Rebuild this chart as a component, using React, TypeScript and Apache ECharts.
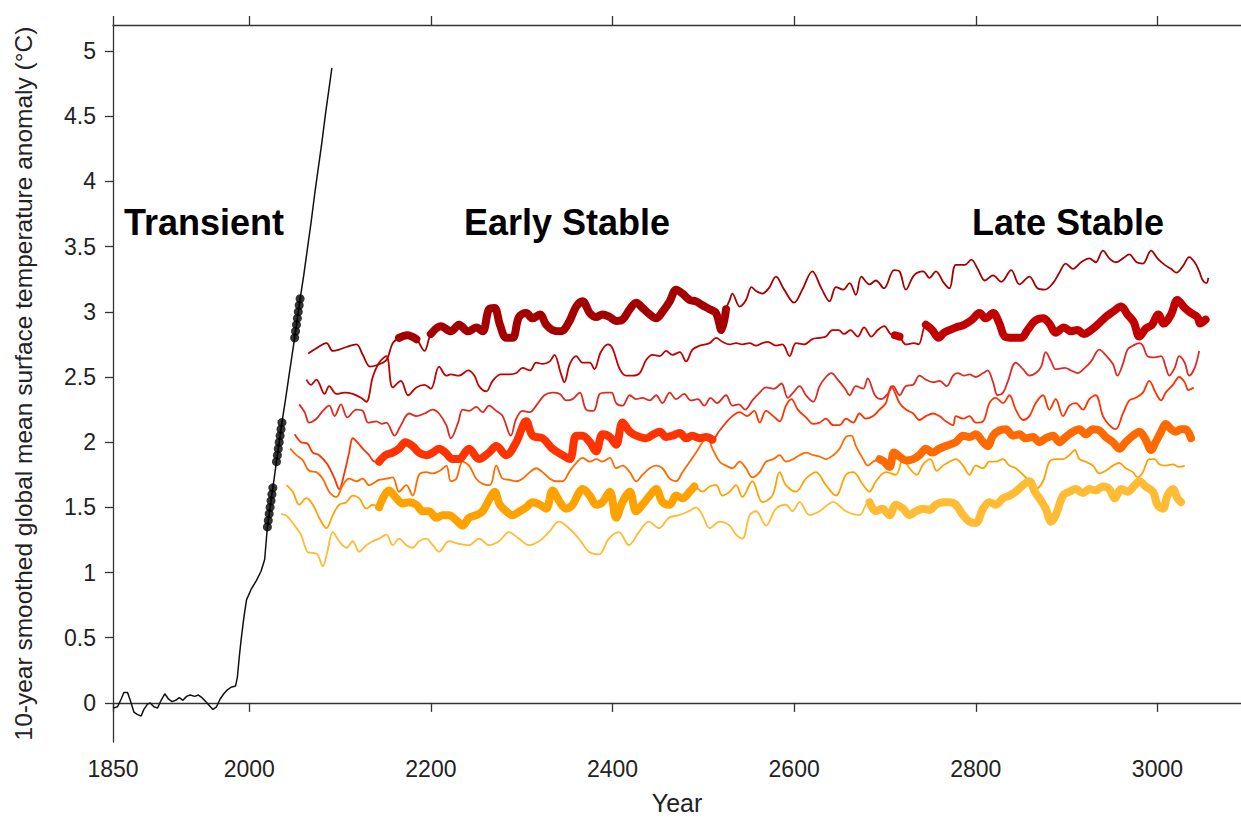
import React, { useEffect, useRef } from "react";
import * as echarts from "echarts";

type P = [number, number];

// ---- axis ticks ----
const xTickValues = [1850, 2000, 2200, 2400, 2600, 2800, 3000];
const yTickValues = [0, 0.5, 1, 1.5, 2, 2.5, 3, 3.5, 4, 4.5, 5];

// ---- transient (black) run ----
const transient: P[] = [
  [1850, -0.04], [1855, -0.03], [1859, 0.03], [1862, 0.08], [1866, 0.08], [1869, 0.02], [1873, -0.07],
  [1877, -0.09], [1881, -0.1], [1884, -0.05], [1888, -0.01], [1891, 0.0], [1895, -0.03], [1899, -0.04],
  [1903, 0.02], [1907, 0.07], [1911, 0.03], [1915, 0.01], [1919, 0.02], [1923, 0.04], [1927, 0.02],
  [1931, 0.05], [1935, 0.06], [1940, 0.05], [1944, 0.06], [1948, 0.04], [1952, 0.01], [1956, -0.02],
  [1960, -0.05], [1964, -0.03], [1968, 0.03], [1972, 0.07], [1976, 0.1], [1980, 0.12], [1985, 0.13],
  [1987, 0.2], [1989, 0.35], [1991, 0.48], [1994, 0.65], [1997, 0.79], [2002, 0.87], [2008, 0.94],
  [2013, 1.01], [2017, 1.1], [2020, 1.35], [2023, 1.5], [2026, 1.65], [2030, 1.85], [2033, 2.0],
  [2036, 2.15], [2040, 2.33], [2044, 2.52], [2047, 2.66], [2050, 2.8], [2053, 2.95], [2056, 3.1],
  [2060, 3.28], [2064, 3.48], [2068, 3.68], [2072, 3.9], [2076, 4.1], [2080, 4.3], [2084, 4.52],
  [2088, 4.72], [2091, 4.87],
];

const branchDots: P[] = [
  [2020, 1.35], [2021, 1.4], [2022, 1.45], [2023, 1.5], [2024, 1.55], [2025, 1.6], [2026, 1.65],
  [2030, 1.85], [2031, 1.9], [2032, 1.95], [2033, 2.0], [2034, 2.05], [2035, 2.1], [2036, 2.15],
  [2050, 2.8], [2051, 2.85], [2052, 2.9], [2053, 2.95], [2054, 3.0], [2055, 3.05], [2056, 3.1],
];

// ---- stabilisation runs ----
const lineA: P[] = [
  [2065, 2.68], [2074, 2.72], [2085, 2.76], [2092, 2.7], [2099, 2.71], [2107, 2.73], [2118, 2.75], [2125, 2.67],
  [2133, 2.58], [2140, 2.59], [2151, 2.63], [2158, 2.76], [2165, 2.8], [2174, 2.82], [2184, 2.79], [2193, 2.7],
  [2200, 2.83], [2211, 2.89], [2222, 2.85], [2231, 2.9], [2241, 2.85], [2250, 2.88], [2257, 2.85], [2264, 3.02],
  [2270, 3.03], [2276, 2.9], [2283, 2.8], [2290, 2.8], [2297, 2.96], [2305, 2.99], [2312, 2.95], [2320, 2.98],
  [2327, 2.9], [2334, 2.86], [2343, 2.85], [2352, 2.92], [2360, 3.04], [2367, 3.08], [2375, 2.99], [2382, 2.96],
  [2389, 2.98], [2397, 2.96], [2404, 2.93], [2411, 2.94], [2419, 3.02], [2426, 3.07], [2433, 3.03], [2441, 2.98],
  [2448, 2.95], [2455, 3.0], [2463, 3.08], [2470, 3.17], [2477, 3.14], [2485, 3.09], [2492, 3.08], [2499, 3.05],
  [2507, 3.02], [2514, 2.99], [2520, 2.86], [2525, 3.02], [2529, 3.09], [2532, 3.14], [2540, 3.04], [2547, 3.09],
  [2553, 3.19], [2558, 3.16], [2565, 3.14], [2572, 3.18], [2580, 3.27], [2589, 3.17], [2600, 3.07], [2609, 3.17],
  [2620, 3.31], [2630, 3.18], [2639, 3.08], [2646, 3.19], [2654, 3.17], [2661, 3.22], [2668, 3.13], [2674, 3.27],
  [2683, 3.21], [2690, 3.24], [2699, 3.18], [2710, 3.32], [2716, 3.31], [2723, 3.17], [2732, 3.28], [2742, 3.31],
  [2749, 3.26], [2756, 3.31], [2765, 3.22], [2771, 3.18], [2778, 3.36], [2788, 3.36], [2795, 3.4], [2802, 3.33],
  [2810, 3.24], [2819, 3.28], [2828, 3.23], [2839, 3.32], [2848, 3.21], [2859, 3.27], [2868, 3.18], [2876, 3.17],
  [2885, 3.22], [2892, 3.3], [2899, 3.37], [2907, 3.33], [2916, 3.38], [2925, 3.41], [2932, 3.38], [2940, 3.47],
  [2947, 3.41], [2954, 3.38], [2962, 3.41], [2969, 3.44], [2977, 3.38], [2984, 3.37], [2993, 3.47], [3000, 3.41],
  [3008, 3.36], [3015, 3.33], [3021, 3.3], [3028, 3.35], [3035, 3.42], [3041, 3.38], [3046, 3.31], [3050, 3.24],
  [3054, 3.22], [3056, 3.26],
];

const lineB: P[] = [
  [2063, 2.48], [2068, 2.44], [2074, 2.48], [2083, 2.37], [2088, 2.43], [2096, 2.37], [2105, 2.38], [2114, 2.37],
  [2123, 2.34], [2129, 2.31], [2136, 2.5], [2143, 2.61], [2151, 2.66], [2158, 2.42], [2167, 2.47], [2175, 2.36],
  [2184, 2.42], [2193, 2.44], [2200, 2.41], [2209, 2.58], [2217, 2.51], [2222, 2.52], [2231, 2.51], [2241, 2.55],
  [2248, 2.51], [2253, 2.43], [2261, 2.39], [2268, 2.47], [2277, 2.52], [2287, 2.52], [2294, 2.53], [2301, 2.57],
  [2309, 2.55], [2316, 2.61], [2323, 2.6], [2331, 2.62], [2336, 2.67], [2343, 2.53], [2347, 2.46], [2353, 2.6],
  [2360, 2.66], [2367, 2.61], [2375, 2.61], [2380, 2.56], [2387, 2.69], [2395, 2.75], [2400, 2.72], [2408, 2.56],
  [2415, 2.51], [2422, 2.51], [2430, 2.53], [2437, 2.63], [2444, 2.67], [2452, 2.66], [2459, 2.7], [2466, 2.67],
  [2474, 2.69], [2481, 2.62], [2488, 2.71], [2496, 2.74], [2507, 2.76], [2514, 2.8], [2521, 2.77], [2529, 2.75],
  [2536, 2.76], [2543, 2.75], [2551, 2.76], [2558, 2.74], [2565, 2.76], [2571, 2.77], [2580, 2.74], [2587, 2.75],
  [2595, 2.66], [2602, 2.76], [2611, 2.75], [2620, 2.79], [2628, 2.8], [2635, 2.81], [2642, 2.86], [2649, 2.86],
  [2655, 2.83], [2662, 2.86], [2670, 2.81], [2677, 2.88], [2685, 2.81], [2692, 2.86], [2699, 2.89], [2706, 2.83],
  [2711, 2.82], [2716, 2.81], [2723, 2.75], [2732, 2.76], [2737, 2.75], [2745, 2.9], [2752, 2.86], [2759, 2.8],
  [2765, 2.84], [2771, 2.86], [2778, 2.88], [2787, 2.9], [2796, 2.94], [2804, 2.99], [2811, 2.95], [2819, 2.99],
  [2826, 2.91], [2832, 2.81], [2841, 2.8], [2850, 2.8], [2857, 2.86], [2865, 2.93], [2874, 2.95], [2881, 2.91],
  [2888, 2.84], [2897, 2.88], [2905, 2.85], [2912, 2.86], [2919, 2.83], [2927, 2.86], [2934, 2.9], [2943, 2.96],
  [2951, 3.0], [2960, 3.04], [2967, 2.98], [2974, 2.92], [2980, 2.81], [2987, 2.87], [2994, 2.9], [3001, 2.98],
  [3007, 2.91], [3015, 2.98], [3022, 3.09], [3030, 3.03], [3037, 2.99], [3044, 2.96], [3047, 2.91], [3053, 2.94],
];

const lineC: P[] = [
  [2055, 2.29], [2061, 2.23], [2066, 2.15], [2074, 2.18], [2081, 2.24], [2088, 2.28], [2094, 2.2], [2101, 2.29],
  [2108, 2.19], [2118, 2.25], [2125, 2.24], [2131, 2.15], [2140, 2.16], [2146, 2.14], [2151, 2.15], [2160, 2.05],
  [2167, 2.13], [2176, 2.22], [2184, 2.2], [2193, 2.22], [2202, 2.25], [2209, 2.22], [2217, 2.13], [2222, 2.03],
  [2230, 2.15], [2235, 2.25], [2242, 2.24], [2250, 2.27], [2257, 2.23], [2264, 2.28], [2272, 2.24], [2279, 2.2],
  [2288, 2.05], [2294, 2.18], [2301, 2.24], [2309, 2.23], [2316, 2.28], [2325, 2.36], [2334, 2.38], [2342, 2.37],
  [2349, 2.32], [2356, 2.33], [2364, 2.38], [2371, 2.25], [2379, 2.24], [2386, 2.37], [2393, 2.38], [2399, 2.38],
  [2404, 2.3], [2411, 2.28], [2419, 2.36], [2426, 2.33], [2433, 2.34], [2441, 2.32], [2448, 2.36], [2455, 2.3],
  [2463, 2.38], [2470, 2.33], [2479, 2.37], [2486, 2.32], [2494, 2.33], [2501, 2.28], [2508, 2.34], [2515, 2.3],
  [2525, 2.36], [2532, 2.28], [2539, 2.29], [2546, 2.25], [2554, 2.32], [2562, 2.38], [2569, 2.42], [2578, 2.41],
  [2586, 2.45], [2593, 2.34], [2599, 2.38], [2606, 2.43], [2613, 2.36], [2621, 2.31], [2628, 2.43], [2635, 2.5],
  [2641, 2.53], [2648, 2.48], [2656, 2.41], [2661, 2.36], [2668, 2.43], [2676, 2.41], [2681, 2.49], [2689, 2.36],
  [2696, 2.33], [2703, 2.37], [2709, 2.43], [2716, 2.36], [2723, 2.43], [2731, 2.44], [2738, 2.51], [2745, 2.48],
  [2753, 2.46], [2760, 2.47], [2768, 2.43], [2775, 2.51], [2780, 2.53], [2787, 2.51], [2793, 2.52], [2800, 2.5],
  [2808, 2.53], [2813, 2.55], [2819, 2.46], [2824, 2.36], [2830, 2.38], [2835, 2.46], [2844, 2.61], [2852, 2.56],
  [2859, 2.51], [2866, 2.53], [2872, 2.58], [2877, 2.69], [2883, 2.62], [2888, 2.56], [2898, 2.57], [2905, 2.55],
  [2912, 2.53], [2920, 2.57], [2927, 2.62], [2936, 2.71], [2944, 2.66], [2951, 2.6], [2956, 2.51], [2962, 2.6],
  [2967, 2.71], [2973, 2.74], [2980, 2.76], [2984, 2.74], [2989, 2.66], [2997, 2.65], [3004, 2.66], [3009, 2.58],
  [3013, 2.51], [3019, 2.57], [3024, 2.66], [3030, 2.61], [3035, 2.51], [3041, 2.57], [3046, 2.7],
];

const lineD: P[] = [
  [2050, 2.06], [2057, 2.0], [2064, 1.99], [2070, 1.92], [2077, 1.9], [2086, 1.83], [2094, 1.72], [2099, 1.64],
  [2105, 1.77], [2110, 1.92], [2114, 2.03], [2119, 2.0], [2125, 1.95], [2132, 1.9], [2138, 1.85], [2143, 1.85],
  [2150, 1.9], [2158, 1.92], [2165, 1.95], [2172, 2.0], [2180, 1.97], [2187, 1.92], [2195, 1.9], [2202, 1.92],
  [2209, 1.95], [2216, 1.92], [2224, 1.87], [2231, 1.87], [2242, 1.95], [2253, 1.87], [2264, 1.92], [2272, 1.97],
  [2283, 1.9], [2294, 2.0], [2305, 2.16], [2312, 2.05], [2323, 2.03], [2334, 1.95], [2345, 1.9], [2353, 1.87],
  [2360, 2.05], [2367, 2.05], [2375, 2.0], [2382, 1.93], [2389, 2.06], [2397, 2.04], [2404, 1.98], [2411, 2.15],
  [2419, 2.08], [2426, 2.05], [2437, 2.03], [2445, 2.06], [2452, 2.08], [2459, 2.04], [2466, 2.05], [2474, 2.07],
  [2481, 2.03], [2488, 2.05], [2496, 2.03], [2503, 2.04], [2510, 2.02], [2517, 2.08], [2525, 2.15], [2532, 2.2],
  [2540, 2.23], [2548, 2.2], [2556, 2.24], [2562, 2.15], [2569, 2.24], [2577, 2.2], [2584, 2.16], [2591, 2.28],
  [2597, 2.33], [2604, 2.25], [2613, 2.19], [2621, 2.14], [2628, 2.15], [2635, 2.18], [2643, 2.13], [2650, 2.13],
  [2657, 2.18], [2665, 2.15], [2672, 2.22], [2679, 2.18], [2687, 2.2], [2694, 2.25], [2701, 2.3], [2707, 2.43],
  [2711, 2.38], [2716, 2.3], [2723, 2.25], [2731, 2.22], [2738, 2.17], [2745, 2.2], [2753, 2.22], [2760, 2.2],
  [2767, 2.16], [2775, 2.13], [2778, 2.2], [2786, 2.18], [2793, 2.2], [2800, 2.15], [2808, 2.16], [2815, 2.3],
  [2822, 2.34], [2830, 2.3], [2837, 2.36], [2844, 2.25], [2852, 2.17], [2859, 2.2], [2866, 2.3], [2874, 2.36],
  [2881, 2.25], [2888, 2.33], [2896, 2.2], [2903, 2.28], [2910, 2.3], [2918, 2.25], [2925, 2.33], [2932, 2.36],
  [2940, 2.2], [2947, 2.13], [2954, 2.1], [2962, 2.22], [2969, 2.32], [2976, 2.34], [2984, 2.38], [2991, 2.47],
  [2998, 2.38], [3004, 2.32], [3009, 2.38], [3017, 2.44], [3024, 2.5], [3030, 2.46], [3034, 2.4], [3040, 2.42],
];

const lineE: P[] = [
  [2045, 1.95], [2052, 1.9], [2059, 1.86], [2066, 1.78], [2074, 1.77], [2081, 1.72], [2088, 1.62], [2096, 1.58],
  [2103, 1.67], [2110, 1.72], [2118, 1.7], [2125, 1.72], [2132, 1.67], [2140, 1.7], [2143, 1.71], [2151, 1.72],
  [2158, 1.73], [2165, 1.62], [2173, 1.67], [2180, 1.59], [2187, 1.75], [2195, 1.77], [2202, 1.76], [2210, 1.78],
  [2217, 1.82], [2222, 1.7], [2228, 1.72], [2235, 1.85], [2242, 1.82], [2250, 1.72], [2257, 1.68], [2265, 1.67],
  [2272, 1.82], [2279, 1.72], [2287, 1.71], [2294, 1.7], [2301, 1.72], [2309, 1.77], [2316, 1.8], [2323, 1.77],
  [2331, 1.72], [2338, 1.7], [2345, 1.7], [2353, 1.78], [2360, 1.84], [2367, 1.88], [2375, 1.85], [2382, 1.87],
  [2389, 1.85], [2397, 1.88], [2404, 1.8], [2411, 1.82], [2419, 1.77], [2426, 1.7], [2433, 1.75], [2441, 1.8],
  [2448, 1.82], [2455, 1.8], [2463, 1.72], [2470, 1.7], [2477, 1.77], [2485, 1.85], [2492, 1.92], [2499, 2.0],
  [2504, 2.04], [2510, 1.95], [2518, 1.85], [2525, 1.82], [2532, 1.8], [2540, 1.85], [2547, 1.8], [2554, 1.73],
  [2562, 1.77], [2569, 1.85], [2577, 1.87], [2584, 1.9], [2591, 1.85], [2599, 1.87], [2606, 1.9], [2613, 1.92],
  [2621, 1.9], [2628, 1.89], [2635, 1.87], [2643, 1.9], [2650, 1.95], [2657, 2.04], [2663, 2.05], [2668, 1.97],
  [2676, 1.87], [2681, 1.82], [2687, 1.85], [2694, 1.87], [2699, 1.85], [2705, 1.81], [2710, 1.92], [2716, 1.89],
  [2723, 1.86], [2731, 1.87], [2738, 1.9], [2745, 1.95], [2752, 1.92], [2760, 1.95], [2767, 1.97], [2778, 2.0],
  [2786, 2.05], [2793, 2.04], [2800, 2.06], [2808, 2.0], [2813, 1.97], [2819, 2.05], [2826, 2.09], [2833, 2.1],
  [2841, 2.05], [2848, 2.06], [2855, 2.03], [2863, 2.04], [2870, 2.0], [2877, 2.03], [2885, 2.05], [2892, 2.0],
  [2899, 2.04], [2907, 2.08], [2914, 2.1], [2921, 2.06], [2929, 2.1], [2936, 2.09], [2943, 2.04], [2951, 2.0],
  [2958, 1.95], [2965, 2.0], [2973, 2.05], [2980, 2.08], [2987, 2.02], [2993, 1.94], [2998, 2.0], [3004, 2.08],
  [3009, 2.14], [3015, 2.1], [3020, 2.08], [3026, 2.1], [3031, 2.1], [3037, 2.03],
];

const lineF: P[] = [
  [2041, 1.67], [2048, 1.62], [2055, 1.52], [2063, 1.57], [2070, 1.52], [2077, 1.42], [2085, 1.34], [2092, 1.44],
  [2099, 1.52], [2107, 1.54], [2114, 1.59], [2121, 1.57], [2129, 1.49], [2136, 1.52], [2143, 1.5], [2154, 1.63],
  [2162, 1.57], [2169, 1.53], [2176, 1.54], [2184, 1.52], [2191, 1.47], [2198, 1.47], [2206, 1.42], [2213, 1.44],
  [2220, 1.44], [2228, 1.4], [2235, 1.36], [2242, 1.42], [2250, 1.44], [2257, 1.47], [2265, 1.57], [2270, 1.62],
  [2276, 1.52], [2283, 1.47], [2290, 1.44], [2298, 1.47], [2305, 1.5], [2312, 1.54], [2320, 1.52], [2327, 1.49],
  [2334, 1.63], [2342, 1.54], [2349, 1.49], [2356, 1.52], [2362, 1.6], [2367, 1.64], [2375, 1.59], [2382, 1.52],
  [2389, 1.54], [2397, 1.62], [2404, 1.42], [2411, 1.54], [2419, 1.62], [2426, 1.47], [2433, 1.52], [2441, 1.59],
  [2448, 1.64], [2455, 1.54], [2463, 1.52], [2470, 1.59], [2477, 1.57], [2485, 1.62], [2490, 1.66], [2499, 1.62],
  [2507, 1.66], [2514, 1.67], [2521, 1.59], [2529, 1.62], [2536, 1.67], [2543, 1.58], [2554, 1.7], [2565, 1.54],
  [2576, 1.59], [2584, 1.77], [2591, 1.67], [2602, 1.62], [2613, 1.72], [2624, 1.77], [2635, 1.67], [2646, 1.59],
  [2657, 1.75], [2665, 1.77], [2676, 1.67], [2683, 1.62], [2690, 1.7], [2701, 1.77], [2712, 1.75], [2720, 1.88],
  [2727, 1.8], [2735, 1.75], [2742, 1.83], [2750, 1.87], [2757, 1.78], [2764, 1.82], [2771, 1.85], [2778, 1.87],
  [2786, 1.82], [2793, 1.75], [2800, 1.82], [2808, 1.8], [2815, 1.85], [2822, 1.85], [2830, 1.87], [2837, 1.82],
  [2844, 1.8], [2852, 1.75], [2859, 1.7], [2866, 1.64], [2874, 1.7], [2881, 1.85], [2888, 1.87], [2896, 1.87],
  [2903, 1.9], [2909, 1.94], [2914, 1.87], [2921, 1.85], [2929, 1.82], [2936, 1.76], [2943, 1.78], [2951, 1.82],
  [2958, 1.84], [2965, 1.8], [2973, 1.77], [2978, 1.73], [2984, 1.77], [2991, 1.87], [2997, 1.87], [3002, 1.83],
  [3009, 1.82], [3017, 1.83], [3024, 1.81], [3030, 1.82],
];

const lineG: P[] = [
  [2035, 1.45], [2042, 1.43], [2050, 1.36], [2057, 1.29], [2064, 1.16], [2070, 1.15], [2075, 1.14], [2081, 1.05],
  [2086, 1.16], [2092, 1.31], [2099, 1.24], [2107, 1.19], [2114, 1.24], [2121, 1.16], [2129, 1.21], [2136, 1.24],
  [2143, 1.26], [2151, 1.29], [2158, 1.21], [2165, 1.26], [2173, 1.21], [2180, 1.19], [2187, 1.24], [2195, 1.26],
  [2202, 1.21], [2209, 1.16], [2220, 1.24], [2231, 1.22], [2242, 1.21], [2253, 1.26], [2264, 1.21], [2275, 1.24],
  [2286, 1.31], [2297, 1.26], [2308, 1.21], [2319, 1.24], [2330, 1.31], [2341, 1.39], [2352, 1.34], [2363, 1.26],
  [2374, 1.16], [2385, 1.14], [2396, 1.26], [2407, 1.31], [2418, 1.21], [2429, 1.31], [2440, 1.39], [2451, 1.34],
  [2462, 1.42], [2473, 1.44], [2484, 1.47], [2492, 1.5], [2499, 1.44], [2507, 1.34], [2518, 1.39], [2529, 1.36],
  [2536, 1.29], [2543, 1.26], [2551, 1.44], [2558, 1.47], [2569, 1.36], [2580, 1.49], [2591, 1.52], [2598, 1.47],
  [2606, 1.54], [2617, 1.44], [2628, 1.47], [2643, 1.54], [2657, 1.47], [2672, 1.44], [2679, 1.52], [2683, 1.54],
  [2690, 1.47], [2697, 1.49], [2705, 1.44], [2712, 1.52], [2720, 1.49], [2727, 1.44], [2734, 1.47], [2742, 1.49],
  [2749, 1.48], [2756, 1.52], [2764, 1.54], [2771, 1.54], [2778, 1.52], [2786, 1.44], [2793, 1.39], [2800, 1.38],
  [2808, 1.49], [2815, 1.54], [2822, 1.52], [2830, 1.57], [2837, 1.59], [2844, 1.62], [2852, 1.67], [2859, 1.7],
  [2865, 1.62], [2870, 1.57], [2877, 1.49], [2883, 1.39], [2888, 1.44], [2896, 1.59], [2903, 1.62], [2910, 1.64],
  [2918, 1.61], [2925, 1.64], [2932, 1.63], [2940, 1.66], [2947, 1.64], [2953, 1.57], [2960, 1.64], [2967, 1.62],
  [2975, 1.67], [2980, 1.7], [2987, 1.66], [2995, 1.62], [3000, 1.52], [3006, 1.49], [3011, 1.59], [3017, 1.64],
  [3022, 1.57], [3026, 1.54],
];

// stable windows (years) drawn thick
const windowsA: P[] = [[2163, 2186], [2199, 2526]];
const windowsB: P[] = [[2709, 2718], [2740, 3054]];
const windowsC: P[] = [];
const windowsD: P[] = [[2142, 2511]];
const windowsE: P[] = [[2693, 3038]];
const windowsF: P[] = [[2142, 2491]];
const windowsG: P[] = [[2682, 3027]];

const lineColors = ["#a50000", "#c20000", "#de2a22", "#ff3300", "#ff6a00", "#ffa200", "#ffbb33"];

const FONT = '"Liberation Sans", Arial, Helvetica, sans-serif';

export default function App() {
  const ref = useRef<HTMLDivElement>(null);
  useEffect(() => {
    if (!ref.current) return;
    const chart = echarts.init(ref.current, null, { renderer: "svg" });
    const runs = [
      { data: lineA, win: windowsA },
      { data: lineB, win: windowsB },
      { data: lineC, win: windowsC },
      { data: lineD, win: windowsD },
      { data: lineE, win: windowsE },
      { data: lineF, win: windowsF },
      { data: lineG, win: windowsG },
    ];
    const series: any[] = [];
    runs.forEach((r, i) => {
      const color = lineColors[i];
      series.push({
        type: "line",
        data: r.data,
        showSymbol: false,
        symbol: "none",
        smooth: 0.35,
        lineStyle: { width: 1.8, color },
        z: 2,
        silent: true,
      });
      r.win.forEach((w) => {
        series.push({
          type: "line",
          data: r.data.filter((p) => p[0] >= w[0] && p[0] <= w[1]),
          showSymbol: false,
          symbol: "none",
          smooth: 0.35,
          lineStyle: { width: 8, color, cap: "round", join: "round" },
          z: 3,
          silent: true,
        });
      });
    });
    series.push({
      type: "line",
      data: transient,
      showSymbol: false,
      symbol: "none",
      lineStyle: { width: 1.5, color: "#111" },
      z: 4,
      silent: true,
    });
    series.push({
      type: "scatter",
      data: branchDots,
      symbolSize: 9,
      itemStyle: { color: "#000" },
      z: 5,
      silent: true,
    });

    const axisLineStyle = { color: "#333", width: 1.3 };
    const option: any = {
      animation: false,
      backgroundColor: "#fff",
      grid: { left: 113, right: 0, top: 25, bottom: 76, containLabel: false },
      xAxis: [
        {
          type: "value",
          min: 1850,
          max: 3092,
          position: "bottom",
          name: "Year",
          nameLocation: "middle",
          nameGap: 48,
          nameTextStyle: { fontFamily: FONT, fontSize: 25, color: "#222" },
          axisLine: { show: true, lineStyle: axisLineStyle },
          axisTick: { show: true, length: 9, customValues: xTickValues, lineStyle: axisLineStyle },
          axisLabel: {
            customValues: xTickValues,
            margin: 15,
            fontFamily: FONT,
            fontSize: 23,
            color: "#222",
            formatter: (v: number) => String(v),
          },
          splitLine: { show: false },
        },
        {
          type: "value",
          min: 1850,
          max: 3092,
          position: "top",
          axisLine: { show: true, lineStyle: axisLineStyle },
          axisTick: { show: true, length: 9, customValues: xTickValues, lineStyle: axisLineStyle },
          axisLabel: { show: false },
          splitLine: { show: false },
        },
      ],
      yAxis: {
        type: "value",
        min: -0.3,
        max: 5.2,
        name: "10-year smoothed global mean surface temperature anomaly (°C)",
        nameLocation: "middle",
        nameGap: 77,
        nameTextStyle: { fontFamily: FONT, fontSize: 24.5, color: "#222" },
        axisLine: { show: true, lineStyle: axisLineStyle },
        axisTick: { show: true, length: 8, customValues: yTickValues, lineStyle: axisLineStyle },
        axisLabel: {
          customValues: yTickValues,
          margin: 17,
          fontFamily: FONT,
          fontSize: 23,
          color: "#222",
          formatter: (v: number) => String(v),
        },
        splitLine: { show: false },
      },
      graphic: [
        {
          type: "text",
          x: 204,
          y: 222,
          style: {
            text: "Transient",
            font: `bold 36px ${FONT}`,
            fill: "#000",
            textAlign: "center",
            textVerticalAlign: "middle",
            align: "center",
            verticalAlign: "middle",
          },
        },
        {
          type: "text",
          x: 567,
          y: 222,
          style: {
            text: "Early Stable",
            font: `bold 36px ${FONT}`,
            fill: "#000",
            textAlign: "center",
            textVerticalAlign: "middle",
            align: "center",
            verticalAlign: "middle",
          },
        },
        {
          type: "text",
          x: 1068,
          y: 222,
          style: {
            text: "Late Stable",
            font: `bold 36px ${FONT}`,
            fill: "#000",
            textAlign: "center",
            textVerticalAlign: "middle",
            align: "center",
            verticalAlign: "middle",
          },
        },
      ],
      series,
    };
    chart.setOption(option);
    return () => chart.dispose();
  }, []);
  return (
    <div
      ref={ref}
      style={{ position: "absolute", left: 0, top: 0, width: 1241, height: 820, background: "#fff" }}
    />
  );
}
